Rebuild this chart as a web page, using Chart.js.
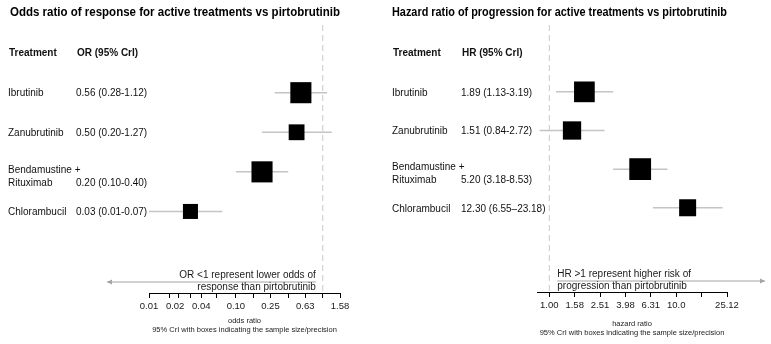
<!DOCTYPE html>
<html lang="en">
<head>
<meta charset="UTF-8">
<title>Forest plots vs pirtobrutinib</title>
<script src="https://cdn.jsdelivr.net/npm/chart.js"></script>
<style>
  body { margin: 0; background: #fff; }
  .panel { position: absolute; top: 0; height: 344px; }
</style>
</head>
<body>
<div class="panel" style="left:0;width:385px"><canvas id="orChart"></canvas></div>
<div class="panel" style="left:385px;width:386px"><canvas id="hrChart"></canvas></div>
<script>
const treatments = ['Ibrutinib', 'Zanubrutinib', 'Bendamustine +\nRituximab', 'Chlorambucil'];

// odds ratio of response, median and 95% CrI
const orEst = [0.56, 0.50, 0.20, 0.03];
const orLow = [0.28, 0.20, 0.10, 0.01];
const orHigh = [1.12, 1.27, 0.40, 0.07];
const orTicks = [0.01, 0.017, 0.02, 0.022, 0.03, 0.04, 0.06, 0.1, 0.16, 0.25, 0.4, 0.63, 1, 1.58];
const orTickLabels = ['0.01', '', '0.02', '', '', '0.04', '', '0.10', '', '0.25', '', '0.63', '', '1.58'];
const orNoMark = [0.02];

// hazard ratio of progression, median and 95% CrI
const hrEst = [1.89, 1.51, 5.20, 12.30];
const hrLow = [1.13, 0.84, 3.18, 6.55];
const hrHigh = [3.19, 2.72, 8.53, 23.18];
const hrDash = ['-', '-', '-', '–'];
const hrTicks = [1, 1.585, 2.512, 3.981, 6.31, 10, 15.85, 25.12];
const hrTickLabels = ['1.00', '1.58', '2.51', '3.98', '6.31', '10.0', '', '25.12'];

const FONT = '"Liberation Sans", Arial, sans-serif';

function fmt(v) { return v.toFixed(2); }

function forestChart(id, p) {
  const rows = p.est.map((_, i) => i);

  // CI whiskers
  const ciSets = rows.map(i => ({
    data: [{ x: p.low[i], y: i }, { x: p.high[i], y: i }],
    showLine: true,
    borderColor: '#c4c4c4',
    borderWidth: 1.5,
    pointRadius: 0,
    order: 2
  }));

  // boxes, size by precision (1 / log width of the CrI)
  const boxSet = {
    data: rows.map(i => ({ x: p.est[i], y: i })),
    pointStyle: 'rect',
    pointRadius: rows.map(i => p.boxK / Math.log10(p.high[i] / p.low[i])),
    backgroundColor: '#000',
    borderWidth: 0,
    order: 0
  };

  // no-effect line
  const refSet = {
    data: [{ x: 1, y: p.yMin }, { x: 1, y: p.yMax }],
    showLine: true,
    borderColor: '#c8c8c8',
    borderWidth: 1,
    borderDash: [6, 4],
    pointRadius: 0,
    order: 3
  };

  const textPlugin = {
    id: 'forestText',
    afterDraw(chart) {
      const ctx = chart.ctx;
      const xs = chart.scales.x, ys = chart.scales.y;
      const area = chart.chartArea;
      ctx.save();
      ctx.fillStyle = '#111';
      ctx.textBaseline = 'middle';
      ctx.textAlign = 'left';

      // column headers
      ctx.font = 'bold 10px ' + FONT;
      const hy = ys.getPixelForValue(-1);
      ctx.fillText('Treatment', p.nameX + 1, hy);
      ctx.fillText(p.colHeader, p.valX + 1, hy);

      // rows
      ctx.font = '10px ' + FONT;
      rows.forEach(i => {
        const y = ys.getPixelForValue(i);
        const lines = treatments[i].split('\n');
        const base = y + 1 - (lines.length - 1) * 3;
        lines.forEach((t, k) => ctx.fillText(t, p.nameX, base + k * 13));
        const dash = p.dash ? p.dash[i] : '-';
        ctx.fillText(fmt(p.est[i]) + ' (' + fmt(p.low[i]) + dash + fmt(p.high[i]) + ')',
          p.valX, base + (lines.length - 1) * 13);
      });

      // direction arrow and note
      const x1 = xs.getPixelForValue(1);
      const ay = area.bottom - 11;
      let from, to;
      if (p.dir < 0) { from = x1 - 7; to = area.left - 42; }
      else { from = x1 + 8; to = area.right + 38; }
      ctx.strokeStyle = '#a9a39c';
      ctx.fillStyle = '#a9a39c';
      ctx.lineWidth = 1;
      ctx.beginPath();
      ctx.moveTo(from, ay);
      ctx.lineTo(to, ay);
      ctx.stroke();
      const s = p.dir < 0 ? 1 : -1;
      ctx.beginPath();
      ctx.moveTo(to, ay);
      ctx.lineTo(to + s * 5, ay - 2.5);
      ctx.lineTo(to + s * 5, ay + 2.5);
      ctx.closePath();
      ctx.fill();

      ctx.fillStyle = '#1a1a1a';
      ctx.font = '10px ' + FONT;
      ctx.textAlign = p.dir < 0 ? 'right' : 'left';
      ctx.fillText(p.note[0], from, area.bottom - 18);
      ctx.fillText(p.note[1], from, area.bottom - 6);
      ctx.restore();
    }
  };

  return new Chart(document.getElementById(id), {
    type: 'scatter',
    data: { datasets: [boxSet].concat(ciSets, [refSet]) },
    plugins: [textPlugin],
    options: {
      responsive: true,
      maintainAspectRatio: false,
      animation: false,
      events: [],
      layout: { padding: { left: p.padLeft, right: p.padRight, top: 0, bottom: 0 } },
      plugins: {
        legend: { display: false },
        tooltip: { enabled: false },
        title: {
          display: true,
          text: p.title,
          align: 'start',
          color: '#000',
          font: { family: FONT, size: 12.5, weight: 'bold' },
          padding: { top: 5, bottom: 5 }
        }
      },
      scales: {
        x: {
          type: 'logarithmic',
          min: p.xMin,
          max: p.xMax,
          afterBuildTicks: sc => { sc.ticks = p.ticks.map(v => ({ value: v })); },
          afterFit: sc => { sc.height = p.axisH; },
          border: { display: true, color: '#000', width: 1 },
          grid: {
            display: true,
            drawOnChartArea: false,
            drawTicks: true,
            tickLength: 5,
            tickColor: c => (c.tick && p.noMark && p.noMark.includes(c.tick.value)) ? 'rgba(0,0,0,0)' : '#000'
          },
          ticks: {
            autoSkip: false,
            maxRotation: 0,
            padding: 3,
            color: '#1a1a1a',
            font: { family: FONT, size: 9.5 },
            callback: (v, i) => p.tickLabels[i]
          },
          title: {
            display: true,
            text: p.axisTitle,
            color: '#222',
            font: { family: FONT, size: 7.5, lineHeight: 1.25 },
            padding: { top: 0, bottom: p.titlePad }
          }
        },
        y: {
          type: 'linear',
          reverse: true,
          min: p.yMin,
          max: p.yMax,
          afterFit: sc => { sc.width = p.yW; },
          border: { display: false },
          grid: { display: false },
          ticks: { display: false }
        }
      }
    }
  });
}

forestChart('orChart', {
  title: 'Odds ratio of response for active treatments vs pirtobrutinib',
  colHeader: 'OR (95% CrI)',
  est: orEst, low: orLow, high: orHigh,
  ticks: orTicks, tickLabels: orTickLabels, noMark: orNoMark,
  xMin: 0.01, xMax: 1.58,
  yMin: -1.71, yMax: 5.06,
  boxK: 8.98,
  dir: -1,
  note: ['OR <1 represent lower odds of', 'response than pirtobrutinib'],
  axisTitle: ['odds ratio', '95% CrI with boxes indicating the sample size/precision'],
  padLeft: 10, padRight: 45, yW: 139, axisH: 51, titlePad: 9.3,
  nameX: 8, valX: 76
});

forestChart('hrChart', {
  title: 'Hazard ratio of progression for active treatments vs pirtobrutinib',
  colHeader: 'HR (95% CrI)',
  est: hrEst, low: hrLow, high: hrHigh, dash: hrDash,
  ticks: hrTicks, tickLabels: hrTickLabels,
  xMin: 0.8, xMax: 25.12,
  yMin: -1.73, yMax: 5.18,
  boxK: 6.6,
  dir: 1,
  note: ['HR >1 represent higher risk of', 'progression than pirtobrutinib'],
  axisTitle: ['hazard ratio', '95% CrI with boxes indicating the sample size/precision'],
  padLeft: 7, padRight: 44, yW: 145, axisH: 52, titlePad: 6.3,
  nameX: 7, valX: 76
});
</script>
</body>
</html>
